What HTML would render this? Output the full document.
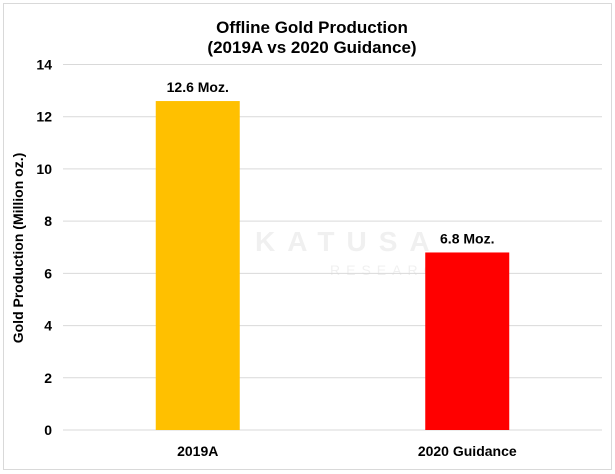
<!DOCTYPE html>
<html><head><meta charset="utf-8"><style>
body{margin:0;background:#fff;}
svg{display:block;font-family:"Liberation Sans",Arial,sans-serif;}
</style></head><body>
<svg width="615" height="474">
<rect x="3.5" y="3.5" width="608" height="466" fill="#fff" stroke="#d9d9d9" stroke-width="1"/>
<text x="312" y="33" text-anchor="middle" font-size="17" font-weight="bold">Offline Gold Production</text>
<text x="312" y="53" text-anchor="middle" font-size="17" font-weight="bold">(2019A vs 2020 Guidance)</text>
<text transform="translate(23,248) rotate(-90)" text-anchor="middle" font-size="14" font-weight="bold">Gold Production (Million oz.)</text>
<g id="watermark" opacity="0.12">
<circle cx="222" cy="234" r="16" fill="none" stroke="#888" stroke-width="3"/>
<text x="255" y="251" font-size="28" font-weight="bold" fill="#888" letter-spacing="12">KATUSA</text>
<text x="330" y="275" font-size="14" fill="#888" letter-spacing="6">RESEARCH</text>
</g>
<g id="grid"></g><g id="bars"></g><g id="labels"></g>
</svg>
<script>
const categories=["2019A","2020 Guidance"];
const values=[12.6,6.8];
const valueLabels=["12.6 Moz.","6.8 Moz."];
const colors=["#ffc000","#ff0000"];
const yTicks=[0,2,4,6,8,10,12,14];
const NS="http://www.w3.org/2000/svg";
const x0=63,x1=602,yZero=430,yTop=64.5,yMax=14;
const y=v=>yZero-(yZero-yTop)*v/yMax;
const band=(x1-x0)/categories.length;
const xc=i=>x0+band*(i+0.5);
const bw=84;
function mk(tag,attrs,parent){const e=document.createElementNS(NS,tag);for(const k in attrs)e.setAttribute(k,attrs[k]);document.getElementById(parent).appendChild(e);return e;}
yTicks.forEach(t=>{
 const l=mk('line',{x1:x0,x2:x1,y1:y(t),y2:y(t),stroke:'#d9d9d9','stroke-width':1},'grid');
 
 
 const tx=mk('text',{x:52,y:y(t)+5,'text-anchor':'end','font-size':14,'font-weight':'bold'},'grid');
 tx.textContent=t;
 
 
});
categories.forEach((c,i)=>{
 const r=mk('rect',{x:xc(i)-bw/2,y:y(values[i]),width:bw,height:yZero-y(values[i]),fill:colors[i]},'bars');
 
 
 const vl=mk('text',{x:xc(i),y:y(values[i])-9,'text-anchor':'middle','font-size':14,'font-weight':'bold'},'labels');
 vl.textContent=valueLabels[i];
 
 
 const cl=mk('text',{x:xc(i),y:456,'text-anchor':'middle','font-size':14,'font-weight':'bold'},'labels');
 cl.textContent=c;
 
 
});
</script>
</body></html>
